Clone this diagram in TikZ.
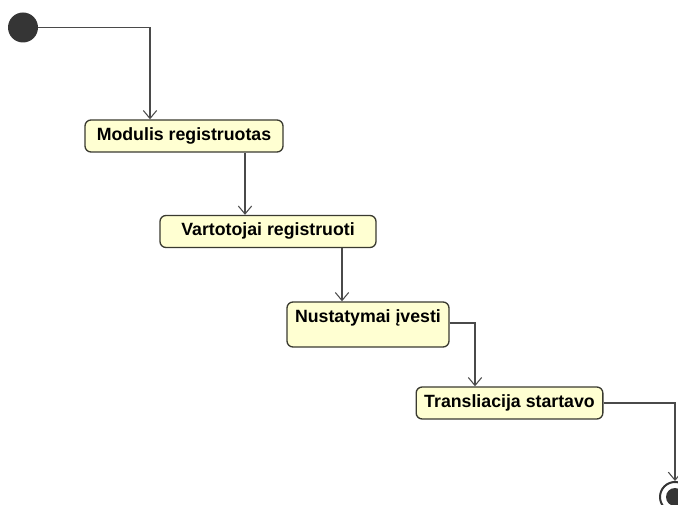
\documentclass[tikz,border=0pt]{standalone}
\usepackage{fontspec}
\setmainfont{Liberation Sans}
\usepackage{tikz}
\usetikzlibrary{
  positioning,
  calc,
  arrows.meta
}
\usepackage{xcolor}
\definecolor{statefill}{HTML}{FFFFD2}
\definecolor{stateline}{HTML}{3A3A30}
\definecolor{flowline}{HTML}{4A4A4A}
\definecolor{dotfill}{HTML}{353535}

\tikzset{
	state/.style={draw=stateline, fill=statefill, line width=1pt, rounded corners=4.5pt,
		font=\fontsize{13.3pt}{15pt}\selectfont\bfseries, inner xsep=4pt, inner ysep=5.75pt,
		text height=9.5pt, text depth=3pt, minimum height=24pt},
	flow/.style={draw=flowline, line width=0.8pt, -{Straight Barb[length=6pt,width=10pt]}},
	initial/.style={circle, fill=dotfill, minimum size=22.5pt, inner sep=0pt},
	final/.style={circle, draw=dotfill, fill=white, line width=1.5pt, minimum size=22.5pt, inner sep=0pt,
		path picture={\fill[dotfill] (path picture bounding box.center) circle (6.75pt);}}
}

\begin{document}
\begin{tikzpicture}[x=0.75pt, y=-0.75pt]

	\useasboundingbox (0,0) rectangle (678,505);

	\node[initial] (start) at (23,27.5) {};
	\node[state, minimum width=148.5pt] (registered) at (184,136) {Modulis registruotas};
	\node[state, minimum width=162pt] (users) at (268,231.5) {Vartotojai registruoti};
	\node[state, minimum width=121.5pt, text depth=12.75pt] (settings) at (368,324.5) {Nustatymai įvesti};
	\node[state, minimum width=140pt] (broadcast) at (509.5,403) {Transliacija startavo};
	\node[final] (stop) at (675,497) {};

	\draw[flow] (start.east) -| ($(registered.north)+(-34,0)$);
	\draw[flow] ($(registered.south)+(61,0)$) -- ($(users.north)+(-23,0)$);
	\draw[flow] ($(users.south)+(74,0)$) -- ($(settings.north)+(-26,0)$);
	\draw[flow] ($(settings.east)+(0,-1.5)$) -| ($(broadcast.north)+(-34.5,0)$);
	\draw[flow] (broadcast.east) -| (stop.north);

\end{tikzpicture}
\end{document}
